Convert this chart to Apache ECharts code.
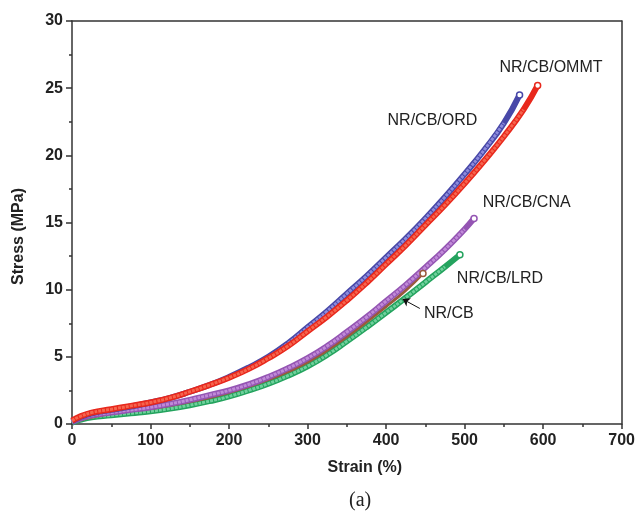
<!DOCTYPE html>
<html lang="en">
<head>
    <meta charset="UTF-8">
    <script src="https://cdn.jsdelivr.net/npm/echarts@6/dist/echarts.min.js"></script>
</head>
<body style="margin:0">
<div style="width: 638px;height: 519px" id="chart"></div>

<script>
    // strain (%) / stress (MPa)
    var ordX  = [0, 10, 25, 50, 75, 100, 125, 150, 175, 200, 225, 250, 275, 300, 325, 350, 375, 400, 425, 450, 475, 500, 525, 550, 570]
    var ordY  = [0.2, 0.5, 0.8, 1.05, 1.3, 1.6, 1.95, 2.4, 2.9, 3.5, 4.2, 5.0, 6.0, 7.2, 8.4, 9.7, 11.0, 12.4, 13.8, 15.3, 16.9, 18.6, 20.4, 22.4, 24.5]
    var ommtX = [0, 10, 25, 50, 75, 100, 125, 150, 175, 200, 225, 250, 275, 300, 325, 350, 375, 400, 425, 450, 475, 500, 525, 550, 575, 593]
    var ommtY = [0.25, 0.55, 0.85, 1.1, 1.35, 1.6, 1.95, 2.4, 2.9, 3.45, 4.1, 4.9, 5.8, 6.9, 8.0, 9.2, 10.5, 11.9, 13.3, 14.8, 16.3, 17.9, 19.6, 21.4, 23.4, 25.2]
    var cnaX  = [0, 10, 25, 50, 75, 100, 125, 150, 175, 200, 225, 250, 275, 300, 325, 350, 375, 400, 425, 450, 475, 500, 512]
    var cnaY  = [0.15, 0.4, 0.65, 0.85, 1.05, 1.25, 1.5, 1.8, 2.15, 2.5, 2.95, 3.5, 4.15, 4.9, 5.8, 6.85, 7.95, 9.15, 10.35, 11.65, 13.0, 14.5, 15.3]
    var lrdX  = [0, 10, 25, 50, 75, 100, 125, 150, 175, 200, 225, 250, 275, 300, 325, 350, 375, 400, 425, 450, 475, 494]
    var lrdY  = [0.1, 0.3, 0.5, 0.65, 0.8, 0.95, 1.15, 1.4, 1.7, 2.05, 2.5, 3.0, 3.6, 4.3, 5.15, 6.15, 7.2, 8.3, 9.4, 10.55, 11.7, 12.6]
    var cbX   = [0, 50, 100, 150, 200, 250, 300, 350, 400, 425, 447]
    var cbY   = [0.15, 0.8, 1.15, 1.65, 2.35, 3.3, 4.6, 6.5, 8.75, 9.95, 11.2]

    // label anchors in data coordinates
    var labelNames = ['NR/CB/OMMT', 'NR/CB/ORD', 'NR/CB/CNA', 'NR/CB/LRD', 'NR/CB']
    var labelPos = [[610, 26.5], [459, 22.6], [579, 16.5], [545, 10.8], [480, 8.2]]
    var arrowFrom = [443, 8.6]
    var arrowTo = [421, 9.3]

    function pts(xs, ys) {
        var out = []
        xs.forEach(function (x, i) {
            if (i == xs.length - 1) {
                out.push({value: [x, ys[i]], symbol: 'circle', symbolSize: 6,
                    itemStyle: {color: '#fff', borderWidth: 1.5}})
            } else {
                out.push([x, ys[i]])
            }
        })
        return out
    }

    // thick textured look: a dark outer stroke plus a lighter inner one
    function curve(name, xs, ys, outer, inner, w) {
        var d = pts(xs, ys)
        return [{
            name: name, type: 'line', data: d, smooth: true, showSymbol: true, symbol: 'none',
            lineStyle: {color: outer, width: w}, itemStyle: {borderColor: outer}, z: 2
        }, {
            name: name + '_in', type: 'line', data: d.slice(0, -1), smooth: true, symbol: 'none',
            lineStyle: {color: inner, width: w - 3, type: [3, 1]}, z: 2, silent: true
        }]
    }

    var chartDom = document.getElementById('chart');
    var myChart = echarts.init(chartDom);
    var txt = {fontFamily: 'Liberation Sans', fontSize: 16, color: '#222'}

    var series = [].concat(
        curve('NR/CB/LRD', lrdX, lrdY, '#24a35e', '#6fd09c', 6),
        [{
            name: 'NR/CB', type: 'line', data: pts(cbX, cbY), smooth: true, symbol: 'none',
            lineStyle: {color: '#9a5a3c', width: 3}, itemStyle: {borderColor: '#9a5a3c'}, z: 2
        }],
        curve('NR/CB/CNA', cnaX, cnaY, '#9455b3', '#c08ad8', 6),
        curve('NR/CB/ORD', ordX, ordY, '#4848a8', '#8d8bdc', 6),
        curve('NR/CB/OMMT', ommtX, ommtY, '#e8281c', '#f5654e', 6)
    )

    series.push({
        type: 'scatter', data: [], silent: true,
        markPoint: {
            symbolSize: 0,
            data: labelNames.map(function (n, i) {
                return {coord: labelPos[i], name: n,
                    label: Object.assign({show: true, formatter: n, position: 'inside'}, txt)}
            })
        },
        markLine: {
            silent: true, symbol: ['none', 'arrow'], symbolSize: 7,
            lineStyle: {color: '#111', width: 1, type: 'solid'}, label: {show: false},
            data: [[{coord: arrowFrom}, {coord: arrowTo}]]
        }
    })

    var option = {
        animation: false,
        grid: {left: 72, right: 16, top: 21, bottom: 95},
        xAxis: [{
            type: 'value', min: 0, max: 700, interval: 100,
            name: 'Strain (%)', nameLocation: 'middle', nameGap: 36,
            nameTextStyle: {fontFamily: 'Liberation Sans', fontSize: 16, fontWeight: 'bold', color: '#222', padding: [0, 0, 0, 36]},
            axisLine: {onZero: false, lineStyle: {color: '#333', width: 1.5}},
            axisTick: {length: 5, lineStyle: {color: '#333', width: 1.5}},
            minorTick: {show: true, splitNumber: 2, length: 3, lineStyle: {color: '#333', width: 1.5}},
            axisLabel: {fontFamily: 'Liberation Sans', fontSize: 16, fontWeight: 'bold', color: '#222', margin: 9},
            splitLine: {show: false}
        }, {
            type: 'value', position: 'top', min: 0, max: 700,
            axisLine: {show: true, onZero: false, lineStyle: {color: '#333', width: 1.5}},
            axisTick: {show: false}, axisLabel: {show: false}, splitLine: {show: false}
        }],
        yAxis: [{
            type: 'value', min: 0, max: 30, interval: 5,
            name: 'Stress (MPa)', nameLocation: 'middle', nameGap: 45,
            nameTextStyle: {fontFamily: 'Liberation Sans', fontSize: 16, fontWeight: 'bold', color: '#222', padding: [0, 28, 0, 0]},
            axisLine: {show: true, onZero: false, lineStyle: {color: '#333', width: 1.5}},
            axisTick: {length: 6, lineStyle: {color: '#333', width: 1.5}},
            minorTick: {show: true, splitNumber: 2, length: 3, lineStyle: {color: '#333', width: 1.5}},
            axisLabel: {fontFamily: 'Liberation Sans', fontSize: 16, fontWeight: 'bold', color: '#222', margin: 9},
            splitLine: {show: false}
        }, {
            type: 'value', position: 'right', min: 0, max: 30,
            axisLine: {show: true, onZero: false, lineStyle: {color: '#333', width: 1.5}},
            axisTick: {show: false}, axisLabel: {show: false}, splitLine: {show: false}
        }],
        graphic: [{
            type: 'text', left: 349, top: 491,
            style: {text: '(a)', font: '20px "Liberation Serif"', fill: '#222'}
        }],
        series: series
    };

    option && myChart.setOption(option);
</script>
</body>
</html>
